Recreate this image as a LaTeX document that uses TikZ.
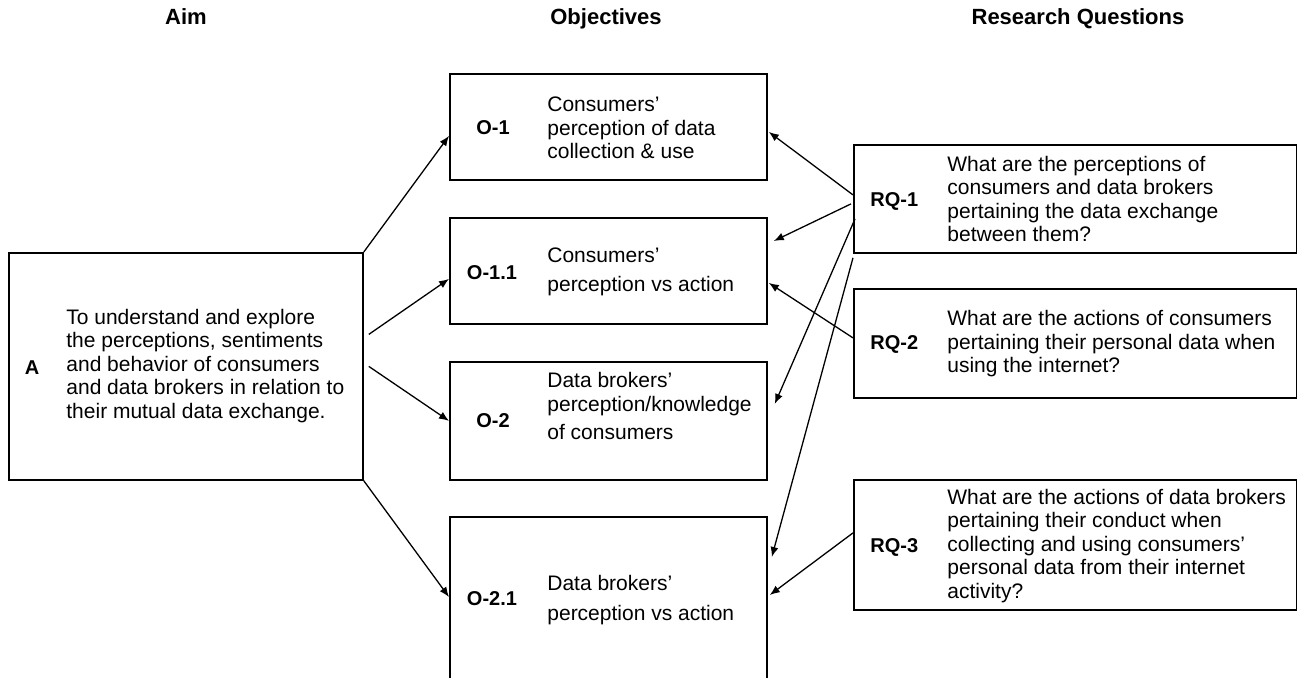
\documentclass[tikz,border=0pt]{standalone}
\usepackage{fontspec}
\setmainfont{Liberation Sans}
\usepackage{tikz}
\usetikzlibrary{positioning,arrows.meta}
\tikzset{
panel/.style={
draw,
line width=0.9pt,
anchor=north west,
inner sep=0pt,
minimum width=158.5pt
},
qpanel/.style={
panel,
minimum width=221.5pt
},
tag/.style={
font=\bfseries,
inner sep=0pt
},
desc/.style={
align=left,
anchor=west,
inner sep=0pt
},
head/.style={
font=\fontsize{11pt}{13pt}\selectfont\bfseries,
anchor=base,
inner sep=0pt
},
link/.style={
-{Latex[length=5pt,width=4pt]},
line width=0.65pt
}
}

\begin{document}
\begin{tikzpicture}[x=0.5pt,y=-0.5pt,font=\fontsize{10.5pt}{11.75pt}\selectfont]
\clip (0,0) rectangle (1297,678);

% column titles
\node[head](haim) at (186,25){Aim};
\node[head](hobj) at (606,25){Objectives};
\node[head](hrq) at (1078,25){Research Questions};

% aim
\node[panel,minimum width=177pt,minimum height=113.5pt](a) at (8,252){};
\node[tag](atag) at (32,368){A};
\node[desc](atxt) at (66,366){To understand and explore\\the perceptions, sentiments\\and behavior of consumers\\and data brokers in relation to\\their mutual data exchange.};

% objectives
\node[panel,minimum height=53pt](o1) at (449,73){};
\node[tag](o1tag) at (493,128){O-1};
\node[desc](o1txt) at (547,128){Consumers'\\perception of data\\collection \& use};

\node[panel,minimum height=53pt](o11) at (449,217){};
\node[tag](o11tag) at (492,273){O-1.1};
\node[desc](o11txt) at (547,272){Consumers'\\[3pt]perception vs action};

\node[panel,minimum height=59pt](o2) at (449,361){};
\node[tag](o2tag) at (493,421){O-2};
\node[desc](o2txt) at (547,406){Data brokers'\\perception/knowledge\\[2.5pt]of consumers};

\node[panel,minimum height=100pt](o21) at (449,516){};
\node[tag](o21tag) at (492,599){O-2.1};
\node[desc](o21txt) at (547,600){Data brokers'\\[3pt]perception vs action};

% research questions
\node[qpanel,minimum height=54pt](rq1) at (853,144){};
\node[tag,anchor=west](rq1tag) at (870,201){RQ-1};
\node[desc](rq1txt) at (947,199){What are the perceptions of\\consumers and data brokers\\pertaining the data exchange\\between them?};

\node[qpanel,minimum height=54.5pt](rq2) at (853,288){};
\node[tag,anchor=west](rq2tag) at (870,344){RQ-2};
\node[desc](rq2txt) at (947,344){What are the actions of consumers\\pertaining their personal data when\\using the internet?};

\node[qpanel,minimum height=65pt](rq3) at (853,479){};
\node[tag,anchor=west](rq3tag) at (870,547){RQ-3};
\node[desc](rq3txt) at (947,546){What are the actions of data brokers\\pertaining their conduct when\\collecting and using consumers'\\personal data from their internet\\activity?};

% aim -> objectives
\draw[link](a.north east)--([yshift=-4.5pt]o1.west);
\draw[link]([xshift=2.5pt,yshift=16pt]a.east)--([yshift=-4pt]o11.west);
\draw[link]([xshift=2.5pt]a.east)--(o2.west);
\draw[link](a.south east)--([yshift=-40.5pt]o21.north west);

% research questions -> objectives
\draw[link]([yshift=2pt]rq1.west)--([xshift=0.5pt,yshift=-2.5pt]o1.east);
\draw[link]([xshift=-1pt,yshift=-2.5pt]rq1.west)--([xshift=3pt,yshift=-12pt]o11.north east);
\draw[link]([yshift=2.75pt]rq2.west)--([xshift=0.5pt,yshift=-6pt]o11.east);
\draw[link]([xshift=1pt,yshift=-10pt]rq1.west)--([xshift=3.5pt,yshift=8.5pt]o2.east);
\draw[link]([yshift=-2pt]rq1.south west)--([xshift=2pt,yshift=-20.5pt]o21.north east);
\draw[link]([yshift=6pt]rq3.west)--([xshift=1pt,yshift=-39.5pt]o21.north east);
\end{tikzpicture}
\end{document}
